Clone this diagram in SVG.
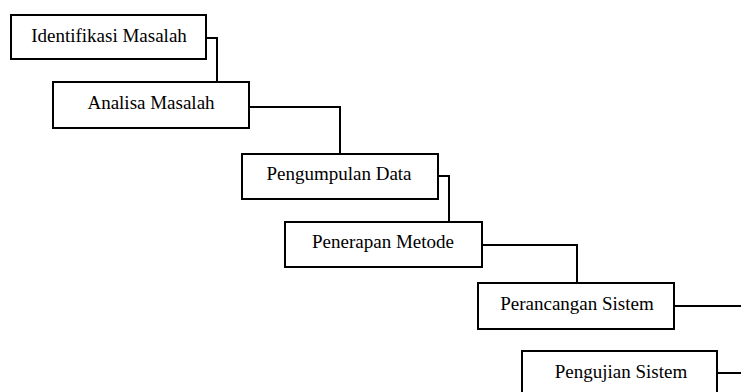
<svg xmlns="http://www.w3.org/2000/svg" width="741" height="392" viewBox="0 0 741 392">
<style>
.box{fill:#fff;stroke:#000;stroke-width:2}
.lbl{font-family:"Liberation Serif","Times New Roman",serif;font-size:19px;fill:#000;text-anchor:middle}
.con{fill:none;stroke:#000;stroke-width:2}
</style>
<rect width="741" height="392" fill="#fff"/>
<g id="connectors">
<polyline class="con" points="206,38 217,38 217,82"/>
<polyline class="con" points="249,107 340,107 340,154"/>
<polyline class="con" points="438,176 449,176 449,222"/>
<polyline class="con" points="482,245 577,245 577,283"/>
<polyline class="con" points="674,306 741,306"/>
<polyline class="con" points="717,373 741,373"/>
</g>
<g id="n1"><rect class="box" x="11" y="15" width="195" height="44"/><text class="lbl" x="109" y="42">Identifikasi Masalah</text></g>
<g id="n2"><rect class="box" x="53" y="82" width="196" height="46"/><text class="lbl" x="151" y="109">Analisa Masalah</text></g>
<g id="n3"><rect class="box" x="242" y="154" width="196" height="45"/><text class="lbl" x="339" y="180">Pengumpulan Data</text></g>
<g id="n4"><rect class="box" x="285" y="222" width="197" height="45"/><text class="lbl" x="383" y="248">Penerapan Metode</text></g>
<g id="n5"><rect class="box" x="478" y="283" width="196" height="46"/><text class="lbl" x="577" y="310">Perancangan Sistem</text></g>
<g id="n6"><rect class="box" x="522" y="351" width="195" height="50"/><text class="lbl" x="621" y="378">Pengujian Sistem</text></g>
</svg>
